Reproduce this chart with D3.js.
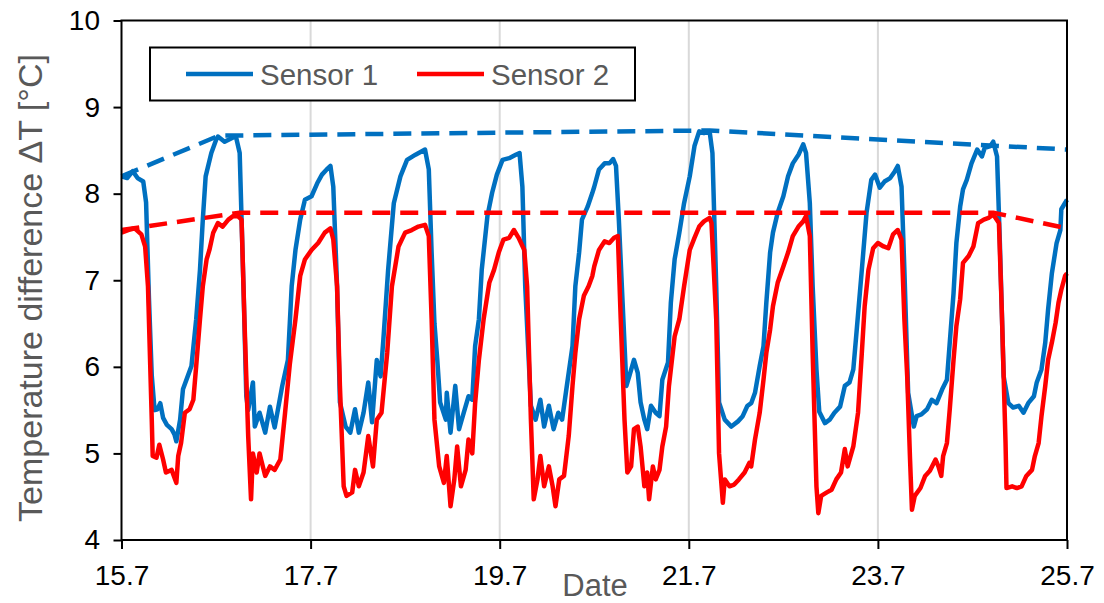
<!DOCTYPE html>
<html>
<head>
<meta charset="utf-8">
<script src="https://cdn.jsdelivr.net/npm/d3@7"></script>
<style>
  body { margin: 0; background: #fff; }
  svg { display: block; font-family: "Liberation Sans", Arial, sans-serif; }
  .axis text { font-size: 28px; fill: #000; }
  .axis line { stroke: #000; stroke-width: 2px; }
  .axis path { display: none; }
  .title { fill: #595959; }
  .legend text { font-size: 29.5px; fill: #595959; }
</style>
</head>
<body>
<div class="layout"></div>
<script>
var xTicks = [15.7, 17.7, 19.7, 21.7, 23.7, 25.7];
var yTicks = [4, 5, 6, 7, 8, 9, 10];
var seriesNames = ["Sensor 1", "Sensor 2"];

// [day, temperature difference]
var sensor1 = [
    [15.70,8.20],[15.76,8.18],[15.82,8.26],[15.87,8.18],[15.93,8.14],[15.96,7.90],[15.99,6.80],[16.02,5.90],[16.05,5.50],[16.08,5.51],
    [16.11,5.58],[16.14,5.41],[16.18,5.33],[16.23,5.28],[16.26,5.22],[16.28,5.14],[16.32,5.39],[16.35,5.74],[16.40,5.89],[16.44,6.01],
    [16.49,6.55],[16.53,7.12],[16.56,7.70],[16.59,8.20],[16.65,8.47],[16.70,8.62],[16.72,8.66],[16.79,8.60],[16.88,8.65],[16.91,8.66],
    [16.95,8.47],[16.99,6.93],[17.02,5.66],[17.04,5.50],[17.09,5.82],[17.11,5.31],[17.16,5.47],[17.22,5.24],[17.27,5.54],[17.32,5.30],
    [17.40,5.78],[17.46,6.08],[17.50,6.93],[17.54,7.35],[17.59,7.70],[17.64,7.93],[17.71,7.97],[17.77,8.12],[17.82,8.22],[17.87,8.28],
    [17.91,8.32],[17.94,8.08],[17.98,6.93],[18.01,5.59],[18.07,5.31],[18.12,5.24],[18.17,5.51],[18.21,5.24],[18.26,5.47],[18.31,5.82],
    [18.35,5.36],[18.40,6.08],[18.44,5.89],[18.47,6.32],[18.52,7.12],[18.58,7.89],[18.65,8.20],[18.72,8.39],[18.81,8.45],[18.91,8.51],
    [18.95,8.28],[18.98,7.32],[19.01,6.50],[19.04,6.08],[19.07,5.59],[19.13,5.39],[19.14,5.70],[19.18,5.24],[19.23,5.78],[19.27,5.28],
    [19.32,5.47],[19.37,5.66],[19.41,5.62],[19.44,6.24],[19.48,6.55],[19.51,7.12],[19.57,7.74],[19.62,8.01],[19.67,8.22],[19.73,8.39],
    [19.80,8.41],[19.87,8.45],[19.91,8.47],[19.94,8.08],[19.97,6.93],[20.03,5.55],[20.08,5.39],[20.13,5.62],[20.17,5.31],[20.22,5.55],
    [20.27,5.28],[20.32,5.47],[20.36,5.39],[20.41,5.78],[20.47,6.24],[20.50,6.93],[20.54,7.32],[20.57,7.70],[20.63,7.85],[20.68,8.01],
    [20.70,8.08],[20.75,8.28],[20.81,8.35],[20.86,8.35],[20.90,8.40],[20.93,8.32],[20.96,7.70],[21.00,6.74],[21.04,5.78],[21.07,5.89],
    [21.12,6.08],[21.16,5.93],[21.19,5.59],[21.23,5.39],[21.26,5.28],[21.30,5.55],[21.35,5.47],[21.39,5.43],[21.42,5.85],[21.48,6.05],
    [21.51,6.74],[21.55,7.24],[21.60,7.55],[21.65,7.89],[21.71,8.20],[21.76,8.55],[21.81,8.72],[21.86,8.70],[21.92,8.72],[21.95,8.47],
    [21.99,6.93],[22.02,5.59],[22.08,5.39],[22.15,5.31],[22.22,5.37],[22.27,5.43],[22.32,5.55],[22.36,5.58],[22.40,5.70],[22.45,6.01],
    [22.49,6.24],[22.52,6.74],[22.56,7.32],[22.59,7.55],[22.64,7.78],[22.70,7.97],[22.75,8.20],[22.80,8.35],[22.86,8.45],[22.91,8.57],
    [22.94,8.47],[22.98,7.89],[23.01,6.93],[23.05,5.97],[23.08,5.48],[23.14,5.35],[23.19,5.39],[23.24,5.47],[23.30,5.54],[23.35,5.78],
    [23.40,5.82],[23.44,5.97],[23.47,6.35],[23.53,7.12],[23.58,7.78],[23.63,8.16],[23.67,8.22],[23.72,8.07],[23.77,8.14],[23.83,8.18],
    [23.88,8.26],[23.91,8.32],[23.95,8.08],[23.98,7.12],[24.02,5.70],[24.08,5.31],[24.11,5.43],[24.16,5.45],[24.22,5.51],[24.27,5.62],
    [24.32,5.58],[24.38,5.74],[24.43,5.85],[24.46,6.28],[24.50,6.85],[24.53,7.43],[24.57,7.85],[24.60,8.05],[24.64,8.16],[24.69,8.35],
    [24.75,8.51],[24.80,8.43],[24.83,8.53],[24.89,8.55],[24.92,8.60],[24.96,8.43],[24.99,7.43],[25.03,5.89],[25.08,5.58],[25.13,5.53],
    [25.19,5.55],[25.24,5.47],[25.29,5.58],[25.35,5.66],[25.38,5.82],[25.43,5.97],[25.47,6.28],[25.50,6.66],[25.54,7.08],[25.59,7.43],
    [25.63,7.58],[25.64,7.82],[25.70,7.93]
];

var sensor2 = [
    [15.70,7.55],[15.77,7.58],[15.84,7.60],[15.91,7.53],[15.95,7.39],[15.98,6.93],[16.00,6.16],[16.02,5.39],[16.03,4.97],[16.07,4.95],
    [16.10,5.10],[16.14,4.93],[16.17,4.78],[16.23,4.81],[16.28,4.66],[16.30,4.97],[16.33,5.12],[16.37,5.47],[16.42,5.51],[16.46,5.62],
    [16.49,6.01],[16.53,6.55],[16.56,6.93],[16.60,7.24],[16.63,7.35],[16.67,7.55],[16.72,7.66],[16.77,7.62],[16.83,7.70],[16.88,7.74],
    [16.93,7.74],[16.97,7.70],[17.00,6.55],[17.04,5.20],[17.07,4.47],[17.09,5.00],[17.13,4.78],[17.16,5.00],[17.22,4.74],[17.27,4.85],
    [17.32,4.81],[17.38,4.93],[17.43,5.47],[17.48,6.03],[17.54,6.55],[17.59,7.05],[17.64,7.24],[17.71,7.35],[17.78,7.43],[17.85,7.55],
    [17.91,7.60],[17.94,7.47],[17.98,6.93],[18.01,5.78],[18.05,4.62],[18.08,4.51],[18.14,4.55],[18.17,4.81],[18.21,4.62],[18.26,4.78],
    [18.31,5.20],[18.36,4.85],[18.40,5.39],[18.45,5.47],[18.51,6.16],[18.56,6.93],[18.63,7.39],[18.70,7.55],[18.77,7.58],[18.84,7.62],
    [18.91,7.64],[18.95,7.51],[18.98,6.55],[19.01,5.39],[19.06,4.85],[19.11,4.66],[19.14,4.97],[19.18,4.39],[19.22,4.70],[19.25,5.08],
    [19.29,4.62],[19.34,4.81],[19.37,5.16],[19.41,5.00],[19.44,5.58],[19.48,6.08],[19.53,6.55],[19.59,6.97],[19.64,7.12],[19.69,7.32],
    [19.74,7.47],[19.80,7.49],[19.85,7.58],[19.90,7.49],[19.96,7.35],[19.99,6.93],[20.03,5.39],[20.06,4.47],[20.10,4.70],[20.13,4.97],
    [20.17,4.62],[20.22,4.85],[20.26,4.62],[20.29,4.39],[20.33,4.70],[20.38,4.74],[20.43,5.20],[20.47,5.78],[20.50,6.16],[20.54,6.55],
    [20.59,6.82],[20.64,6.93],[20.68,7.05],[20.70,7.16],[20.75,7.35],[20.81,7.45],[20.86,7.43],[20.91,7.49],[20.95,7.51],[20.98,6.55],
    [21.02,5.39],[21.05,4.78],[21.09,4.85],[21.12,5.28],[21.16,5.31],[21.19,5.08],[21.23,4.62],[21.26,4.78],[21.28,4.47],[21.32,4.85],
    [21.35,4.70],[21.39,4.81],[21.42,5.08],[21.46,5.31],[21.49,5.78],[21.55,6.35],[21.60,6.55],[21.65,6.93],[21.71,7.35],[21.76,7.49],
    [21.81,7.62],[21.86,7.68],[21.92,7.72],[21.94,7.66],[21.99,6.55],[22.02,5.00],[22.06,4.43],[22.08,4.70],[22.13,4.62],[22.18,4.64],
    [22.23,4.70],[22.29,4.78],[22.34,4.89],[22.36,4.85],[22.40,5.16],[22.45,5.47],[22.49,5.85],[22.52,6.16],[22.56,6.43],[22.59,6.70],
    [22.64,6.97],[22.70,7.16],[22.75,7.32],[22.80,7.51],[22.86,7.62],[22.91,7.68],[22.94,7.74],[22.98,7.51],[23.01,6.16],[23.05,4.62],
    [23.07,4.31],[23.10,4.51],[23.16,4.55],[23.21,4.58],[23.26,4.70],[23.31,4.78],[23.35,5.05],[23.38,4.85],[23.44,5.08],[23.49,5.47],
    [23.53,6.16],[23.56,6.70],[23.60,7.12],[23.65,7.37],[23.70,7.43],[23.76,7.39],[23.81,7.37],[23.86,7.53],[23.91,7.58],[23.95,7.47],
    [23.98,6.55],[24.01,5.89],[24.04,4.93],[24.06,4.35],[24.09,4.51],[24.15,4.60],[24.20,4.74],[24.25,4.80],[24.31,4.93],[24.34,4.85],
    [24.37,4.74],[24.39,4.97],[24.43,5.12],[24.46,5.51],[24.50,6.08],[24.53,6.47],[24.57,6.78],[24.60,7.20],[24.66,7.28],[24.71,7.39],
    [24.76,7.66],[24.82,7.70],[24.87,7.72],[24.92,7.76],[24.98,7.66],[25.01,6.66],[25.05,5.12],[25.06,4.60],[25.12,4.62],[25.17,4.60],
    [25.22,4.62],[25.27,4.74],[25.33,4.81],[25.36,4.97],[25.40,5.12],[25.43,5.43],[25.47,5.78],[25.50,6.08],[25.54,6.28],[25.58,6.51],
    [25.61,6.74],[25.64,6.89],[25.68,7.05],[25.70,7.08]
];

// dashed upper envelopes
var envelope1 = [[15.70,8.20],[16.73,8.67],[21.92,8.73],[25.70,8.51]];
var envelope2 = [[15.70,7.58],[16.95,7.78],[24.92,7.78],[25.70,7.60]];

var margin = {top: 20.5, right: 37, bottom: 63, left: 121.5},
        width = 1104 - margin.left - margin.right,
        height = 603 - margin.top - margin.bottom;

var x = d3.scaleLinear()
        .domain([15.7, 25.7])
        .range([0, width]);

var y = d3.scaleLinear()
        .domain([4, 10])
        .range([height, 0]);

var xAxis = d3.axisBottom(x)
        .tickValues(xTicks)
        .tickFormat(d3.format(".1f"))
        .tickSize(9)
        .tickSizeOuter(0)
        .tickPadding(16);

var yAxis = d3.axisLeft(y)
        .tickValues(yTicks)
        .tickFormat(d3.format("d"))
        .tickSize(8)
        .tickSizeOuter(0)
        .tickPadding(13.5);

var line = d3.line()
        .x(function(d) { return x(d[0]); })
        .y(function(d) { return y(d[1]); });

var svg = d3.select(".layout").append("svg")
        .attr("width", width + margin.left + margin.right)
        .attr("height", height + margin.top + margin.bottom)
        .append("g")
        .attr("transform", "translate(" + margin.left + "," + margin.top + ")");

// vertical gridlines
svg.selectAll(".grid")
        .data(xTicks.slice(1, -1))
        .enter().append("line")
        .attr("class", "grid")
        .attr("x1", function(d) { return x(d); })
        .attr("x2", function(d) { return x(d); })
        .attr("y1", 0)
        .attr("y2", height)
        .attr("stroke", "#d9d9d9")
        .attr("stroke-width", 2);

var series = [
    {data: sensor1, color: "#0070c0", dash: null},
    {data: sensor2, color: "#ff0000", dash: null},
    {data: envelope1, color: "#0070c0", dash: "18,10"},
    {data: envelope2, color: "#ff0000", dash: "18,10"}
];

svg.selectAll(".series")
        .data(series)
        .enter().append("path")
        .attr("class", "series")
        .attr("d", function(d) { return line(d.data); })
        .attr("fill", "none")
        .attr("stroke", function(d) { return d.color; })
        .attr("stroke-width", 4.5)
        .attr("stroke-linejoin", "round")
        .attr("stroke-dasharray", function(d) { return d.dash; });

svg.append("rect")
        .attr("width", width)
        .attr("height", height)
        .attr("fill", "none")
        .attr("stroke", "#000")
        .attr("stroke-width", 2);

svg.append("g")
        .attr("class", "x axis")
        .attr("transform", "translate(0," + height + ")")
        .call(xAxis);

svg.append("g")
        .attr("class", "y axis")
        .call(yAxis);

svg.append("text")
        .attr("class", "title")
        .attr("x", 595 - margin.left)
        .attr("y", 596 - margin.top)
        .attr("text-anchor", "middle")
        .style("font-size", "31px")
        .text("Date");

svg.append("text")
        .attr("class", "title")
        .attr("transform", "translate(" + (42 - margin.left) + "," + (288 - margin.top) + ") rotate(-90)")
        .attr("text-anchor", "middle")
        .style("font-size", "34px")
        .text("Temperature difference \u0394T [\u00b0C]");

// legend box
var legend = svg.append("g")
        .attr("class", "legend")
        .attr("transform", "translate(" + (150 - margin.left) + "," + (47.5 - margin.top) + ")");

legend.append("rect")
        .attr("width", 485)
        .attr("height", 53)
        .attr("fill", "#fff")
        .attr("stroke", "#000")
        .attr("stroke-width", 2);

var item = legend.selectAll(".item")
        .data(seriesNames)
        .enter().append("g")
        .attr("class", "item")
        .attr("transform", function(d, i) { return "translate(" + (36 + i * 231) + ",0)"; });

item.append("line")
        .attr("x1", 0)
        .attr("x2", 67)
        .attr("y1", 26.5)
        .attr("y2", 26.5)
        .attr("stroke", function(d, i) { return series[i].color; })
        .attr("stroke-width", 4.5);

item.append("text")
        .attr("x", 74)
        .attr("y", 37)
        .text(function(d) { return d; });
</script>
</body>
</html>
